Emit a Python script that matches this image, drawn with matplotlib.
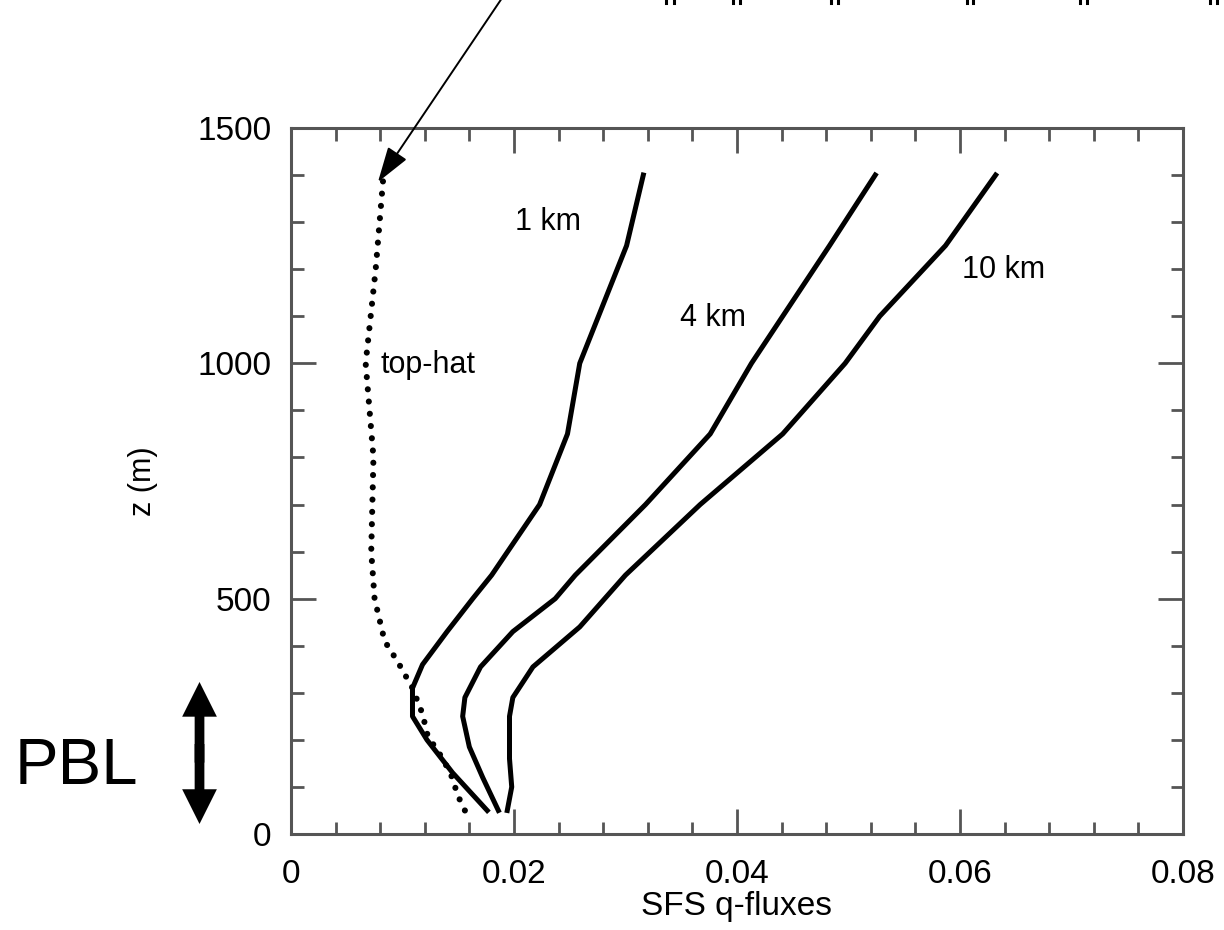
import matplotlib
matplotlib.use('Agg')
import matplotlib.pyplot as plt
from matplotlib.lines import Line2D
from matplotlib.patches import FancyArrowPatch
from matplotlib.ticker import MultipleLocator

plt.rcParams['font.family'] = ['Liberation Sans', 'DejaVu Sans']

# profiles (flux, height in m)
z_1km = [50, 130, 200, 250, 310, 360, 430, 500, 550, 700, 850, 1000, 1250, 1400]
q_1km = [0.0176, 0.0145, 0.0122, 0.0109, 0.0109, 0.0118, 0.0140, 0.0163, 0.0180,
         0.0223, 0.0248, 0.0259, 0.0301, 0.0316]

z_4km = [50, 120, 185, 250, 290, 355, 430, 500, 550, 700, 850, 1000, 1250, 1400]
q_4km = [0.0186, 0.0172, 0.0160, 0.0154, 0.0156, 0.0170, 0.0199, 0.0237, 0.0255,
         0.0318, 0.0376, 0.0413, 0.0483, 0.0524]

z_10km = [50, 100, 160, 250, 290, 355, 440, 550, 700, 850, 1000, 1100, 1250, 1400]
q_10km = [0.0194, 0.0198, 0.0196, 0.0196, 0.0199, 0.0217, 0.0259, 0.0300, 0.0367,
          0.0441, 0.0497, 0.0528, 0.0587, 0.0632]

z_tophat = [50, 80, 130, 180, 205, 255, 310, 365, 410, 470, 500, 600, 800, 1000, 1200, 1400]
q_tophat = [0.0156, 0.0150, 0.0143, 0.0131, 0.0123, 0.0118, 0.0109, 0.0096, 0.0084,
            0.0078, 0.0075, 0.0072, 0.0074, 0.0067, 0.0076, 0.0083]

labels = ['1 km', '4 km', '10 km', 'top-hat']
label_pos = [(0.0201, 1300), (0.0349, 1097), (0.0602, 1199), (0.0080, 997)]

xticks = [0, 0.02, 0.04, 0.06, 0.08]
xtick_labels = ['0', '0.02', '0.04', '0.06', '0.08']
yticks = [0, 500, 1000, 1500]

# positions (in pixels) of the clipped quote marks along the top edge
quote_px = [670, 736, 834, 970, 1083, 1213]

fig = plt.figure(figsize=(12.24, 9.30), dpi=100)
ax = fig.add_axes([0.2377, 0.1032, 0.7288, 0.7592])

for q, z in [(q_1km, z_1km), (q_4km, z_4km), (q_10km, z_10km)]:
    ax.plot(q, z, color='black', lw=3.6)
ax.plot(q_tophat, z_tophat, color='black', lw=4.4, linestyle=(0, (0.01, 2.0)),
        dash_capstyle='round')

for lab, (x, y) in zip(labels, label_pos):
    ax.text(x, y, lab, fontsize=22, ha='left', va='center')

ax.set_xlim(0, 0.08)
ax.set_ylim(0, 1500)
ax.set_xticks(xticks)
ax.set_xticklabels(xtick_labels)
ax.set_yticks(yticks)
ax.xaxis.set_minor_locator(MultipleLocator(0.004))
ax.yaxis.set_minor_locator(MultipleLocator(100))

ax.tick_params(which='both', direction='in', top=True, right=True, color='#555555',
               labelsize=24, width=2)
ax.tick_params(which='major', length=18)
ax.tick_params(axis='x', which='major', pad=18)
ax.tick_params(axis='y', which='major', pad=14)
ax.tick_params(which='minor', length=9)
for s in ax.spines.values():
    s.set_color('#555555')
    s.set_linewidth(2.2)

ax.set_xlabel('SFS q-fluxes', fontsize=24, labelpad=1)
ax.set_ylabel('z (m)', fontsize=22, labelpad=28)

# thin pointer arrow from the top of the page
ax.annotate('', xy=(0.0078, 1385), xytext=(0.0189, 1775),
            xycoords='data', textcoords='data', annotation_clip=False,
            arrowprops=dict(arrowstyle='-|>,head_length=1.1,head_width=0.35',
                            color='black', lw=1.4, mutation_scale=20,
                            shrinkA=0, shrinkB=0))

# PBL annotation with a double arrow
fig.text(0.012, 0.175, 'PBL', fontsize=47, ha='left', va='center')
for start, tip in ((0.18, 0.2667), (0.20, 0.114)):
    fig.patches.append(FancyArrowPatch(
        (0.163, start), (0.163, tip), transform=fig.transFigure,
        arrowstyle='simple,head_length=25,head_width=25,tail_width=7',
        mutation_scale=1, color='black', lw=0, shrinkA=0, shrinkB=0))

# clipped quote marks at the very top
for xp in quote_px:
    for dx in (-3.5, 3.5):
        x = (xp + dx) / 1224
        fig.add_artist(Line2D([x, x], [1.0, 1 - 3 / 930], transform=fig.transFigure,
                              color='black', lw=2.2))

fig.savefig('out.png', dpi=100)
